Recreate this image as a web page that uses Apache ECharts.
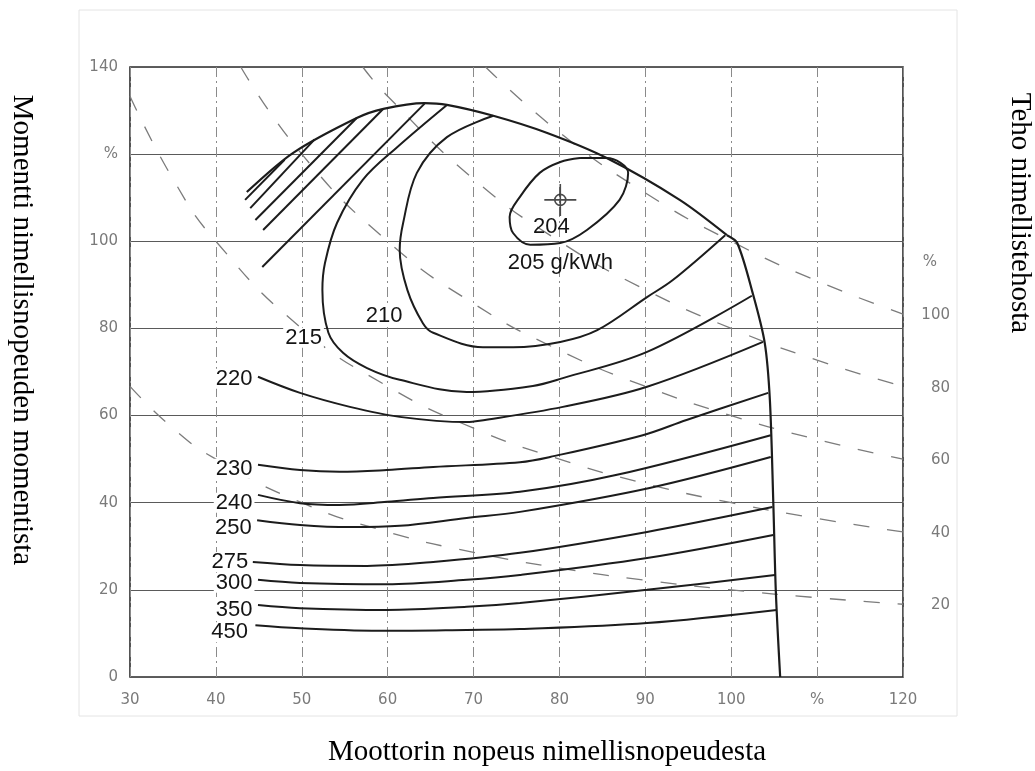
<!DOCTYPE html>
<html><head><meta charset="utf-8">
<script src="https://cdn.jsdelivr.net/npm/echarts@6/dist/echarts.min.js"></script>
<style>html,body{margin:0;padding:0;background:#fff}#chart{width:1035px;height:771px}</style>
</head><body><div id="chart"></div>
<script>
// ---- tick labels ----
const xTickLabels = ['30','40','50','60','70','80','90','100','%','120'];
const yTickLabels = ['0','20','40','60','80','100','%','140'];
const powerLabelValues = [95.3, 83.0, 66.4, 49.8, 33.0, 16.4];
const powerLabelTexts = ['%','100','80','60','40','20'];

// ---- full-load torque curve (speed %, torque %) ----
const fullLoadUpper = [[43.6,111.3],[49.0,120.3],[56.4,128.3],[59.5,130.4],[64.3,131.7],[66.9,131.3],[72.3,128.8],[78.5,124.9],[85.5,119.1],[94.0,109.5],[99.5,101.4]];
const fullLoadLower = [[99.5,101.4],[100.7,99.6],[102.5,88.1],[103.9,76.7],[104.5,63.6],[104.9,40.0],[105.2,19.3],[105.7,0]];

// ---- hatched lines (upper-left) ----
const hatch1 = [[43.4,109.5],[48.0,118.7]];
const hatch2 = [[44.0,107.6],[51.5,123.4]];
const hatch3 = [[44.6,104.9],[56.4,128.3]];
const hatch4 = [[45.5,102.6],[59.5,130.4]];
const hatch5 = [[45.4,94.1],[64.3,131.6]];

// ---- fuel consumption contours (g/kWh) ----
const c205 = [[82.4,119.1],[85.5,119.1],[88.0,115.7],[87.0,109.5],[83.2,102.6],[80.1,99.6],[76.6,99.2],[74.6,101.9],[74.2,105.6],[75.4,110.2],[77.7,115.7],[80.1,118.2],[82.4,119.1]];
const optimum = [[80.1,109.5]];
const c210 = [[72.3,128.8],[66.9,123.9],[63.4,115.7],[61.8,104.2],[61.4,98.0],[62.3,88.8],[64.1,81.2],[65.3,79.0],[71.1,75.7],[74.6,75.7],[80.1,76.9],[84.4,79.6],[90.2,87.2],[93.2,91.1],[99.3,101.4]];
const c215 = [[66.9,131.3],[61.1,121.6],[57.1,114.1],[54.1,104.2],[52.7,95.0],[52.4,88.8],[53.1,79.0],[54.8,74.4],[57.6,70.9],[61.4,68.2],[69.2,65.4],[76.9,66.8],[80.4,68.6],[90.2,74.6],[102.4,87.5]];
const c220 = [[44.9,68.9],[49.8,65.2],[55.6,62.0],[61.4,59.7],[69.2,58.5],[70.7,58.8],[80.4,62.0],[90.2,66.6],[103.7,76.9]];
const c230 = [[44.9,48.7],[49.8,47.5],[54.4,47.1],[59.9,47.5],[65.3,48.2],[75.4,49.3],[78.9,50.5],[89.7,55.5],[94.8,59.0],[104.3,65.2]];
const c240 = [[44.9,41.8],[49.8,39.9],[54.4,39.5],[59.9,40.2],[65.3,41.1],[75.4,42.5],[86.7,46.4],[104.6,55.5]];
const c250 = [[44.8,36.0],[49.8,34.9],[55.6,34.4],[61.4,34.7],[69.2,36.5],[75.4,37.9],[90.5,43.4],[104.6,50.5]];
const c275 = [[44.3,26.4],[49.8,25.7],[57.6,25.5],[65.3,26.4],[75.4,28.5],[90.2,33.3],[104.8,39.0]];
const c300 = [[44.9,22.3],[49.8,21.6],[59.9,21.3],[69.2,22.3],[75.4,23.4],[90.2,27.3],[104.9,32.6]];
const c350 = [[44.9,16.5],[49.8,15.8],[59.9,15.4],[69.2,16.1],[75.4,17.0],[90.2,20.0],[105.1,23.4]];
const c450 = [[44.6,11.9],[49.8,11.2],[59.9,10.6],[69.2,10.8],[75.4,11.0],[90.2,12.4],[105.3,15.4]];

// ---- constant-power dashed lines ----
const power20  = [[30,66.7],[35,57.1],[40,50],[50,40],[60,33.3],[70,28.6],[80,25],[90,22.2],[100,20],[110,18.2],[120,16.7]];
const power40  = [[30,133.3],[35,114.3],[40,100],[50,80],[60,66.7],[70,57.1],[80,50],[90,44.4],[100,40],[110,36.4],[120,33.3]];
const power60  = [[42.9,140],[50,120],[60,100],[70,85.7],[80,75],[90,66.7],[100,60],[110,54.5],[120,50]];
const power80  = [[57.1,140],[60,133.3],[70,114.3],[80,100],[90,88.9],[100,80],[110,72.7],[120,66.7]];
const power100 = [[71.4,140],[80,125],[90,111.1],[100,100],[110,90.9],[120,83.3]];

const INK = '#1c1c1c';
const labelFont = {color:'#141414', fontSize:22, fontFamily:'Liberation Sans', opacity:1};

function curve(data, opts) {
  return Object.assign({
    type:'line', data:data, symbol:'circle', symbolSize:1, showSymbol:true, showAllSymbol:true,
    smooth:0.35, silent:true, animation:false, labelLayout:{hideOverlap:false},
    itemStyle:{color:'rgba(0,0,0,0)'},
    lineStyle:{color:INK, width:2}, z:5
  }, opts || {});
}
// label to the left of point idx; gap = px gap to the point, shift = vertical px shift (down +)
function labelled(data, idx, text, gap, shift) {
  return data.map((p, i) => i === idx
    ? {value:p, label:Object.assign({show:true, formatter:text, position:[-gap, 0.5 + shift],
        align:'right', verticalAlign:'middle', backgroundColor:'#fff', padding:[0,2], lineHeight:20}, labelFont)}
    : p);
}
function dashed(data) {
  return curve(data, {smooth:0.5, z:2, lineStyle:{color:'#7c7c7c', width:1.3, type:[16,18]}});
}

const option = {
  backgroundColor:'#fff',
  animation:false,
  grid:{left:130, right:132, top:67, bottom:94, show:true, borderColor:'#2a2a2a', borderWidth:1.6, backgroundColor:'transparent'},
  xAxis:{type:'value', min:30, max:120, interval:10,
    axisLine:{show:false}, axisTick:{show:false},
    axisLabel:{margin:16, color:'#7a7a7a', fontSize:15, fontFamily:'DejaVu Sans',
      formatter:(v) => xTickLabels[Math.round((v-30)/10)]},
    splitLine:{show:true, lineStyle:{color:'#8a8a8a', width:1, type:[10,4,2,4]}}},
  yAxis:[
    {type:'value', min:0, max:140, interval:20,
      axisLine:{show:false}, axisTick:{show:false},
      axisLabel:{margin:12, color:'#7a7a7a', fontSize:15, fontFamily:'DejaVu Sans',
        formatter:(v) => yTickLabels[Math.round(v/20)]},
      splitLine:{show:true, lineStyle:{color:'#5a5a5a', width:1.2}}},
    {type:'value', min:0, max:140, position:'right',
      axisLine:{show:false}, axisTick:{show:false}, splitLine:{show:false},
      axisLabel:{customValues:powerLabelValues, align:'right', margin:47, color:'#7a7a7a', fontSize:15, fontFamily:'DejaVu Sans',
        formatter:(v) => {
          let best = 0;
          powerLabelValues.forEach((pv, i) => { if (Math.abs(pv - v) < Math.abs(powerLabelValues[best] - v)) best = i; });
          const t = powerLabelTexts[best];
          return t === '%' ? '{p|%}' : t;
        },
        rich:{p:{padding:[0,13,0,0], color:'#7a7a7a', fontSize:15, fontFamily:'DejaVu Sans'}}}}
  ],
  graphic:[
    {type:'rect', shape:{x:79, y:10, width:878, height:706}, style:{fill:'none', stroke:'#e4e4e4', lineWidth:1}, z:-1, silent:true},
    {type:'text', x:22, y:330, rotation:-Math.PI/2, style:{text:'Momentti nimellisnopeuden momentista', font:'29px "Liberation Serif"', fill:'#000', textAlign:'center', textVerticalAlign:'middle'}},
    {type:'text', x:1020, y:213, rotation:-Math.PI/2, style:{text:'Teho nimellistehosta', font:'29px "Liberation Serif"', fill:'#000', textAlign:'center', textVerticalAlign:'middle'}},
    {type:'text', x:547, y:752, style:{text:'Moottorin nopeus nimellisnopeudesta', font:'29px "Liberation Serif"', fill:'#000', textAlign:'center', textVerticalAlign:'middle'}}
  ],
  series:[
    dashed(power20), dashed(power40), dashed(power60), dashed(power80), dashed(power100),
    curve(hatch1, {smooth:false}), curve(hatch2, {smooth:false}), curve(hatch3, {smooth:false}),
    curve(hatch4, {smooth:false}), curve(hatch5, {smooth:false}),
    curve(fullLoadUpper, {smooth:0.3, lineStyle:{color:INK, width:2.2}}),
    curve(fullLoadLower, {smooth:0.3, lineStyle:{color:INK, width:2.2}}),
    curve(c205.map((p, i) => i === 5
      ? {value:p, label:Object.assign({show:true, formatter:'205 g/kWh', position:'bottom', distance:8}, labelFont)}
      : p)),
    curve(labelled(c210, 6, '210', 18, -7)),
    curve(labelled(c215, 6, '215', 4, 5)),
    curve(labelled(c220, 0, '220', 3, 2)),
    curve(labelled(c230, 0, '230', 3, 4)),
    curve(labelled(c240, 0, '240', 3, 8)),
    curve(labelled(c250, 0, '250', 3, 8)),
    curve(labelled(c275, 0, '275', 2, 0)),
    curve(labelled(c300, 0, '300', 3, 3)),
    curve(labelled(c350, 0, '350', 3, 5)),
    curve(labelled(c450, 0, '450', 5, 7)),
    {type:'scatter', data:optimum, silent:true, animation:false, z:6,
      symbol:'path://M0,16 L32,16 M16,0 L16,32 M10.5,16 A5.5,5.5 0 1 1 21.5,16 A5.5,5.5 0 1 1 10.5,16 Z',
      symbolSize:32, itemStyle:{color:'rgba(0,0,0,0)', borderColor:INK, borderWidth:1.6},
      label:Object.assign({show:true, formatter:'204', position:'bottom', distance:-1, offset:[-9,0]}, labelFont)}
  ]
};
const chart = echarts.init(document.getElementById('chart'));
chart.setOption(option);
</script></body></html>
